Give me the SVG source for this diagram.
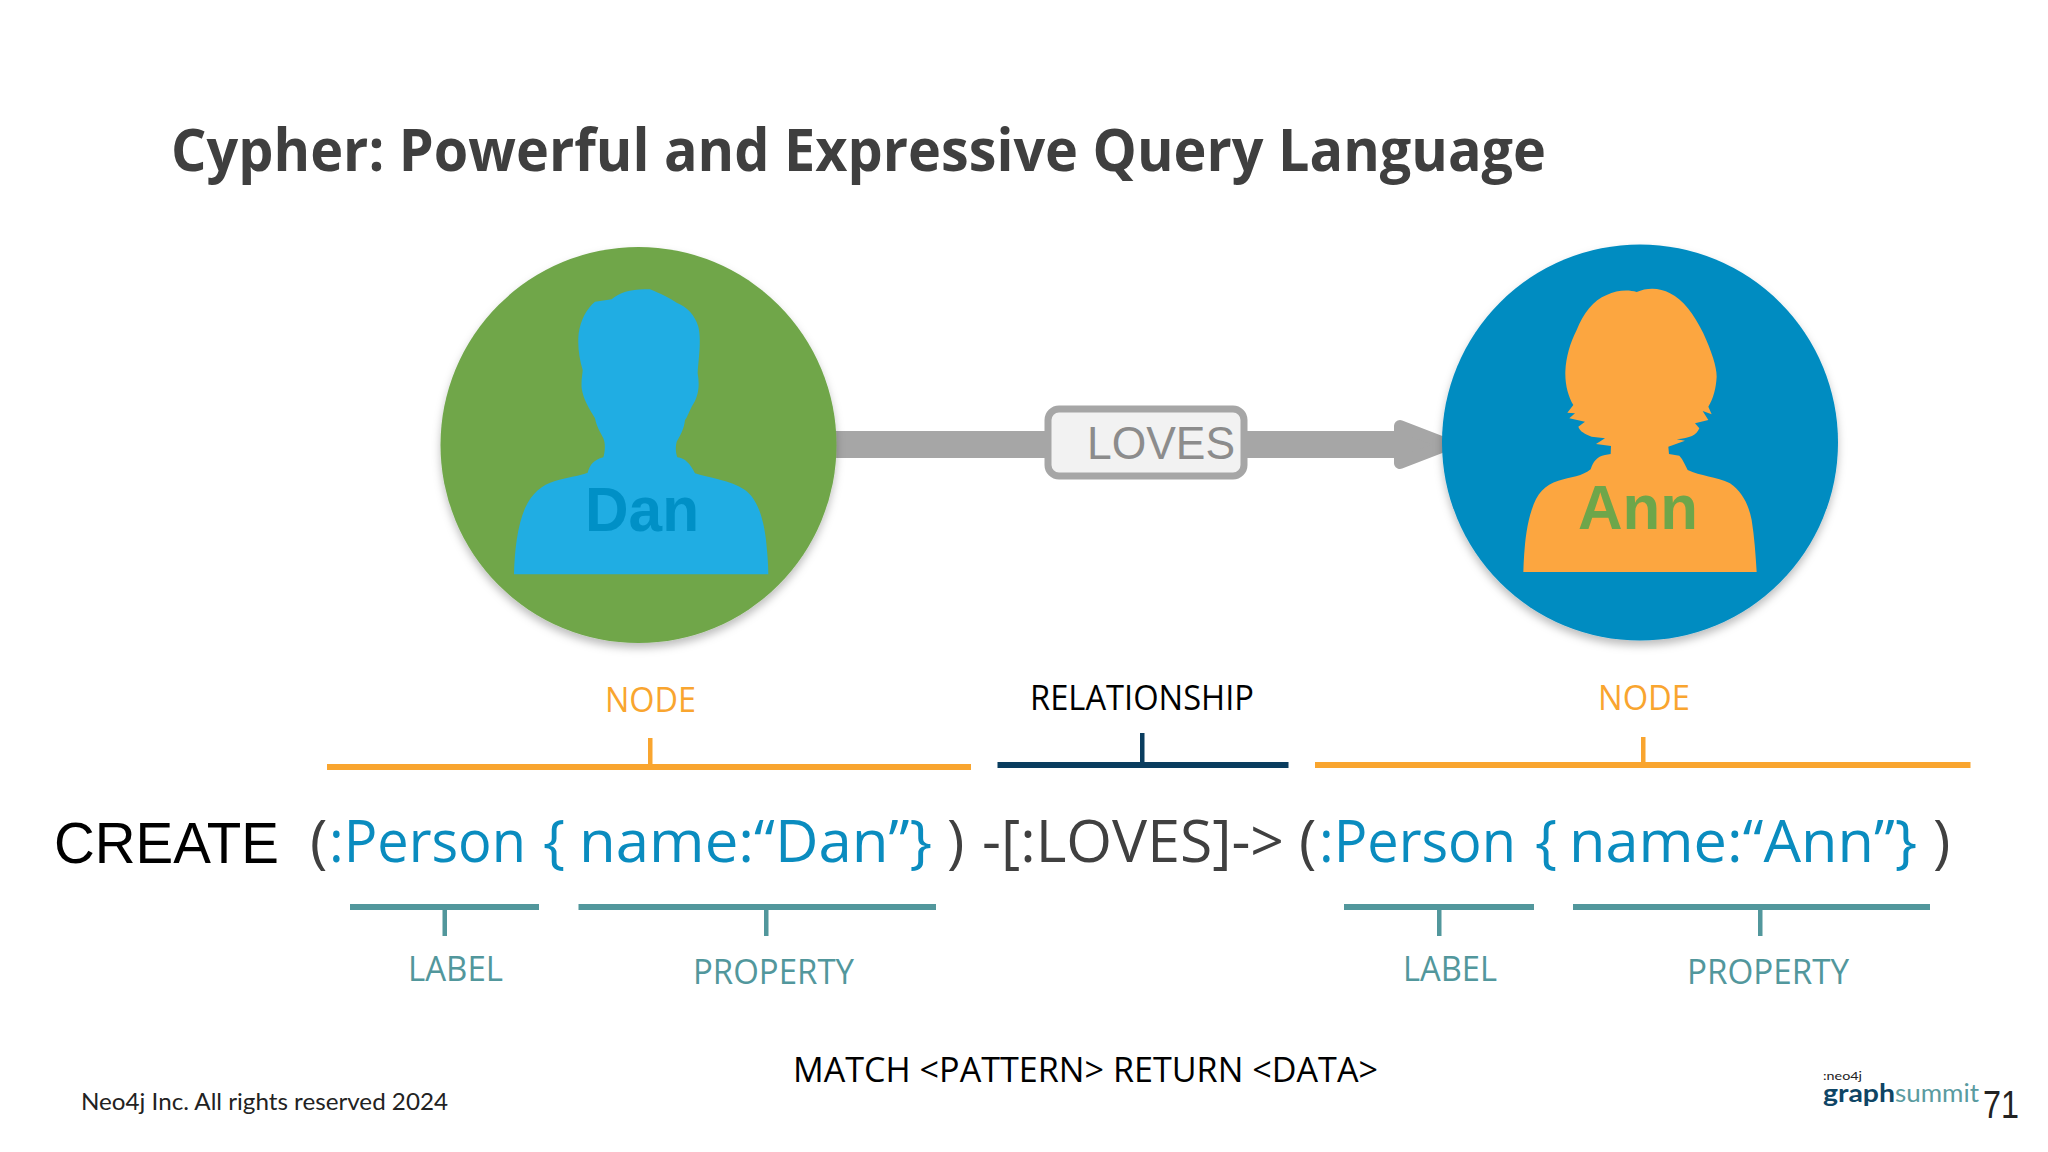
<svg xmlns="http://www.w3.org/2000/svg" width="2048" height="1152" viewBox="0 0 2048 1152">
<style>
text{font-family:"Open Sans","Noto Sans",sans-serif}
.ar{font-family:"Liberation Sans",Arial,sans-serif}
.code{font-size:59px}
.blue{fill:#0a8cbf}
.dark{fill:#404040}
.tag{font-size:34px}
.or{fill:#f9a52f}
.teal{fill:#52979c}
.name{font-family:"Liberation Sans",Arial,sans-serif;font-size:63px;font-weight:700}
.logo{font-family:Lato,sans-serif}
</style>
<defs>
<filter id="sh" x="-15%" y="-15%" width="130%" height="135%"><feDropShadow dx="0" dy="5" stdDeviation="4" flood-color="#000" flood-opacity=".26"/></filter>
</defs>
<rect width="2048" height="1152" fill="#fff"/>
<text x="171" y="171" font-size="59" font-weight="700" fill="#3f3f3f" textLength="1375" lengthAdjust="spacingAndGlyphs">Cypher: Powerful and Expressive Query Language</text>

<g id="connectors">
<rect x="830" y="431" width="570" height="27" fill="#a6a6a6"/>
<path d="M1400 426L1448 444.500L1400 463Z" fill="#a6a6a6" stroke="#a6a6a6" stroke-width="12" stroke-linejoin="round"/>
</g>

<g id="node-dan">
<circle cx="638.500" cy="445" r="198" fill="#6fa64a" filter="url(#sh)"/>
<path transform="translate(420 230) scale(.33333)" fill="#20ade3" d="M282 1033C284 960 292 890 315 835C335 790 365 765 405 753C440 742 475 738 503 728C510 705 520 690 550 682C556 660 556 640 550 625C540 605 530 590 525 565C510 540 490 510 485 475C483 450 488 430 488 420C478 385 472 350 476 310C482 270 500 235 525 215L575 208C600 185 640 175 690 178C720 190 750 205 770 218C800 230 825 255 835 290C845 330 835 390 833 430C840 470 835 500 815 530C805 550 800 565 795 570C792 595 785 610 770 635C765 655 768 670 772 682C795 685 810 700 825 730C870 745 930 750 975 780C1010 805 1030 860 1038 930C1042 970 1045 1000 1045 1033Z"/>
<text class="name" x="585" y="531" fill="#0090c6" textLength="114" lengthAdjust="spacingAndGlyphs">Dan</text>
</g>

<g id="node-ann">
<circle cx="1640" cy="442.500" r="198" fill="#008cc1" filter="url(#sh)"/>
<path transform="translate(1420 230) scale(.33333)" fill="#fca640" d="M310 1026C312 960 318 890 335 840C350 790 375 765 415 752C450 742 490 738 512 718C520 695 530 680 555 675L572 672L573 648L528 642L555 625L515 620C495 612 480 605 475 590L495 575L448 565L465 550L442 548L460 525C445 500 435 465 436 425C438 380 450 340 470 300C490 250 520 210 560 195C590 180 625 178 650 186C680 172 720 172 750 190C790 210 820 250 850 310C875 365 890 410 890 440C888 475 880 505 865 530L875 553L848 543L865 570L825 580L838 595C830 615 810 625 770 628L795 632L745 650L747 672L778 677C790 690 795 705 803 720C840 738 890 740 930 760C965 785 985 820 995 870C1003 920 1007 975 1010 1026Z"/>
<text class="name" x="1578" y="529" fill="#6ea64a" textLength="120" lengthAdjust="spacingAndGlyphs">Ann</text>
</g>

<g id="edge-label">
<rect x="1048" y="409" width="196" height="67" rx="11" fill="#f2f2f2" stroke="#a6a6a6" stroke-width="7"/>
<text class="ar" x="1087" y="459" font-size="46" fill="#8c8c8c" textLength="148" lengthAdjust="spacingAndGlyphs">LOVES</text>
</g>

<g id="brackets">
<g class="or">
<rect x="327" y="764" width="644" height="6"/><rect x="648" y="738" width="4.500" height="27"/>
<rect x="1315" y="762" width="655.500" height="6"/><rect x="1641" y="737" width="4.500" height="26"/>
</g>
<g fill="#0a3d5f">
<rect x="997.500" y="762" width="291" height="6"/><rect x="1140" y="733" width="4.500" height="30"/>
</g>
<g class="teal">
<rect x="350" y="904" width="189" height="6"/><rect x="442.500" y="909" width="4.500" height="27"/>
<rect x="578.500" y="904" width="357.500" height="6"/><rect x="764" y="909" width="4.500" height="27"/>
<rect x="1344" y="904" width="190" height="6"/><rect x="1437" y="909" width="4.500" height="27"/>
<rect x="1573" y="904" width="357" height="6"/><rect x="1758" y="909" width="4.500" height="27"/>
</g>
</g>

<g id="tags">
<text class="tag or" x="605" y="712" textLength="91" lengthAdjust="spacingAndGlyphs">NODE</text>
<text class="tag" x="1030" y="710" fill="#000" textLength="224" lengthAdjust="spacingAndGlyphs">RELATIONSHIP</text>
<text class="tag or" x="1598" y="710" textLength="92" lengthAdjust="spacingAndGlyphs">NODE</text>
<text class="tag teal" x="408" y="981" textLength="95" lengthAdjust="spacingAndGlyphs">LABEL</text>
<text class="tag teal" x="693" y="984" textLength="161" lengthAdjust="spacingAndGlyphs">PROPERTY</text>
<text class="tag teal" x="1403" y="981" textLength="94" lengthAdjust="spacingAndGlyphs">LABEL</text>
<text class="tag teal" x="1687" y="984" textLength="162" lengthAdjust="spacingAndGlyphs">PROPERTY</text>
</g>

<g id="query">
<text class="ar" x="54" y="863" font-size="57" fill="#000" textLength="225" lengthAdjust="spacingAndGlyphs">CREATE</text>
<text class="code dark" x="310" y="862">(</text>
<text class="code blue" x="329" y="862" textLength="197" lengthAdjust="spacingAndGlyphs">:Person</text>
<text class="code blue" x="543" y="862">{</text>
<text class="code blue" x="579" y="862" textLength="353" lengthAdjust="spacingAndGlyphs">name:“Dan”}</text>
<text class="code dark" x="947" y="862">)</text>
<text class="code dark" x="982" y="862" textLength="302" lengthAdjust="spacingAndGlyphs">-[:LOVES]-&gt;</text>
<text class="code dark" x="1299" y="862">(</text>
<text class="code blue" x="1319" y="862" textLength="197" lengthAdjust="spacingAndGlyphs">:Person</text>
<text class="code blue" x="1535" y="862">{</text>
<text class="code blue" x="1569" y="862" textLength="348" lengthAdjust="spacingAndGlyphs">name:“Ann”}</text>
<text class="code dark" x="1933" y="862">)</text>
</g>

<text x="793" y="1082" font-size="35" fill="#000" textLength="585" lengthAdjust="spacingAndGlyphs">MATCH &lt;PATTERN&gt; RETURN &lt;DATA&gt;</text>
<text x="81" y="1110" font-size="23" fill="#222" style="font-family:Lato,sans-serif" textLength="367" lengthAdjust="spacingAndGlyphs">Neo4j Inc. All rights reserved 2024</text>

<g id="logo">
<text class="logo" x="1823" y="1080" font-size="12" fill="#222" textLength="39" lengthAdjust="spacingAndGlyphs">:neo4j</text>
<text class="logo" x="1823" y="1102" font-size="25" font-weight="700" fill="#0f4565" textLength="72" lengthAdjust="spacingAndGlyphs">graph</text>
<text class="logo" x="1895" y="1102" font-size="25" fill="#5a9ba0" textLength="84" lengthAdjust="spacingAndGlyphs">summit</text>
<text class="ar" x="1983" y="1118" font-size="39" fill="#222" textLength="36" lengthAdjust="spacingAndGlyphs">71</text>
</g>
</svg>
